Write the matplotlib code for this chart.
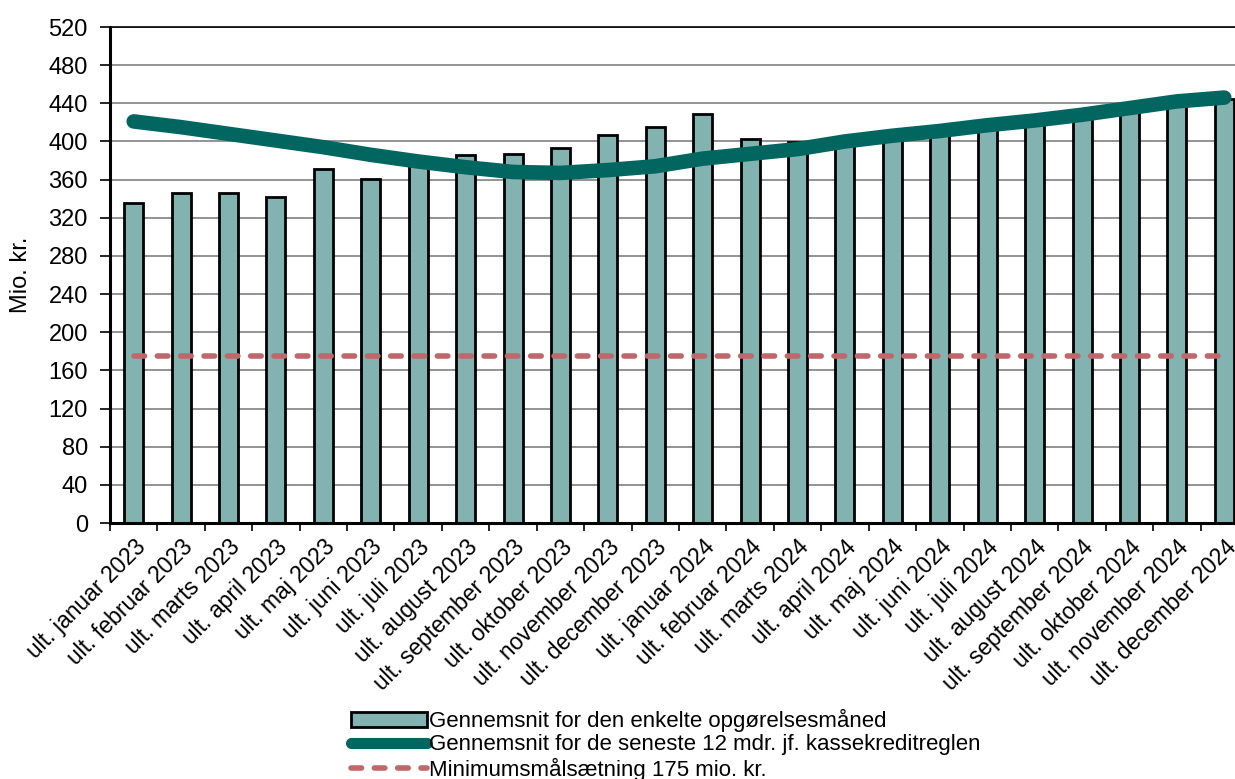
import numpy as np
import matplotlib.pyplot as plt
from matplotlib.patches import Patch
from matplotlib.lines import Line2D

plt.rcParams['font.family'] = ['Liberation Sans', 'DejaVu Sans']

# data
maaneder = ["januar", "februar", "marts", "april", "maj", "juni", "juli", "august",
            "september", "oktober", "november", "december"]
kategorier = [f"ult. {m} 2023" for m in maaneder] + [f"ult. {m} 2024" for m in maaneder]

maanedsgennemsnit = [335, 346, 346, 342, 371, 361, 378, 386, 387, 393, 407, 415,
                     429, 403, 399, 397, 405, 410, 415, 421, 427, 433, 440, 445]
gennemsnit_12mdr = [421, 415, 408, 401, 394, 386, 379, 373, 368, 367, 370, 374,
                    382, 387, 392, 400, 406, 411, 417, 422, 428, 435, 442, 446]
maal = [175] * len(kategorier)

bar_farve = "#82b3b0"
linje_farve = "#00665f"
maal_farve = "#c0676c"
stiplet = (0, (1.9, 2.3))

fig = plt.figure(figsize=(12.35, 7.79), dpi=100)
ax = fig.add_axes([110 / 1235, 1 - 523 / 779, 1138 / 1235, 496 / 779])

x = np.arange(len(kategorier))
ax.bar(x, maanedsgennemsnit, width=0.4, color=bar_farve, edgecolor="black", linewidth=2, zorder=2)
ax.plot(x, gennemsnit_12mdr, color=linje_farve, linewidth=10.5, solid_capstyle="round", zorder=4)
ax.plot(x, maal, color=maal_farve, linewidth=4, linestyle=stiplet, dash_capstyle="round", zorder=3)

ax.set_xlim(-0.5, len(kategorier) - 0.5)
ax.set_ylim(0, 520)
ax.set_yticks(np.arange(0, 521, 40))
ax.grid(axis="y", color="#808080", linewidth=1.2, zorder=0)
ax.set_axisbelow(True)

ax.set_xticks(x)
ax.set_xticklabels(kategorier, rotation=45, ha="right", rotation_mode="anchor", fontsize=16.5)
ax.set_xticks(np.arange(-0.5, len(kategorier), 1), minor=True)
ax.tick_params(axis="x", which="major", length=0, pad=9)
ax.tick_params(axis="x", which="minor", length=6, width=1.2)
ax.tick_params(axis="y", labelsize=17, length=7, width=1.2, pad=9)

for s in ["left", "bottom"]:
    ax.spines[s].set_linewidth(2.2)
ax.spines["top"].set_linewidth(1.2)
ax.spines["right"].set_visible(False)

ax.set_ylabel("Mio. kr.", fontsize=17, labelpad=12)

handles = [
    Patch(facecolor=bar_farve, edgecolor="black", linewidth=2),
    Line2D([], [], color=linje_farve, linewidth=8, solid_capstyle="round"),
    Line2D([], [], color=maal_farve, linewidth=4, linestyle=stiplet, dash_capstyle="round"),
]
labels = ["Gennemsnit for den enkelte opgørelsesmåned",
          "Gennemsnit for de seneste 12 mdr. jf. kassekreditreglen",
          "Minimumsmålsætning 175 mio. kr."]
fig.legend(handles, labels, loc="upper left", bbox_to_anchor=(351 / 1235, 1 - 709 / 779),
           frameon=False, fontsize=16, handlelength=3.4, handleheight=0.7,
           handletextpad=0.12, labelspacing=0.1, borderpad=0, borderaxespad=0)

fig.savefig("out.png", dpi=100)
